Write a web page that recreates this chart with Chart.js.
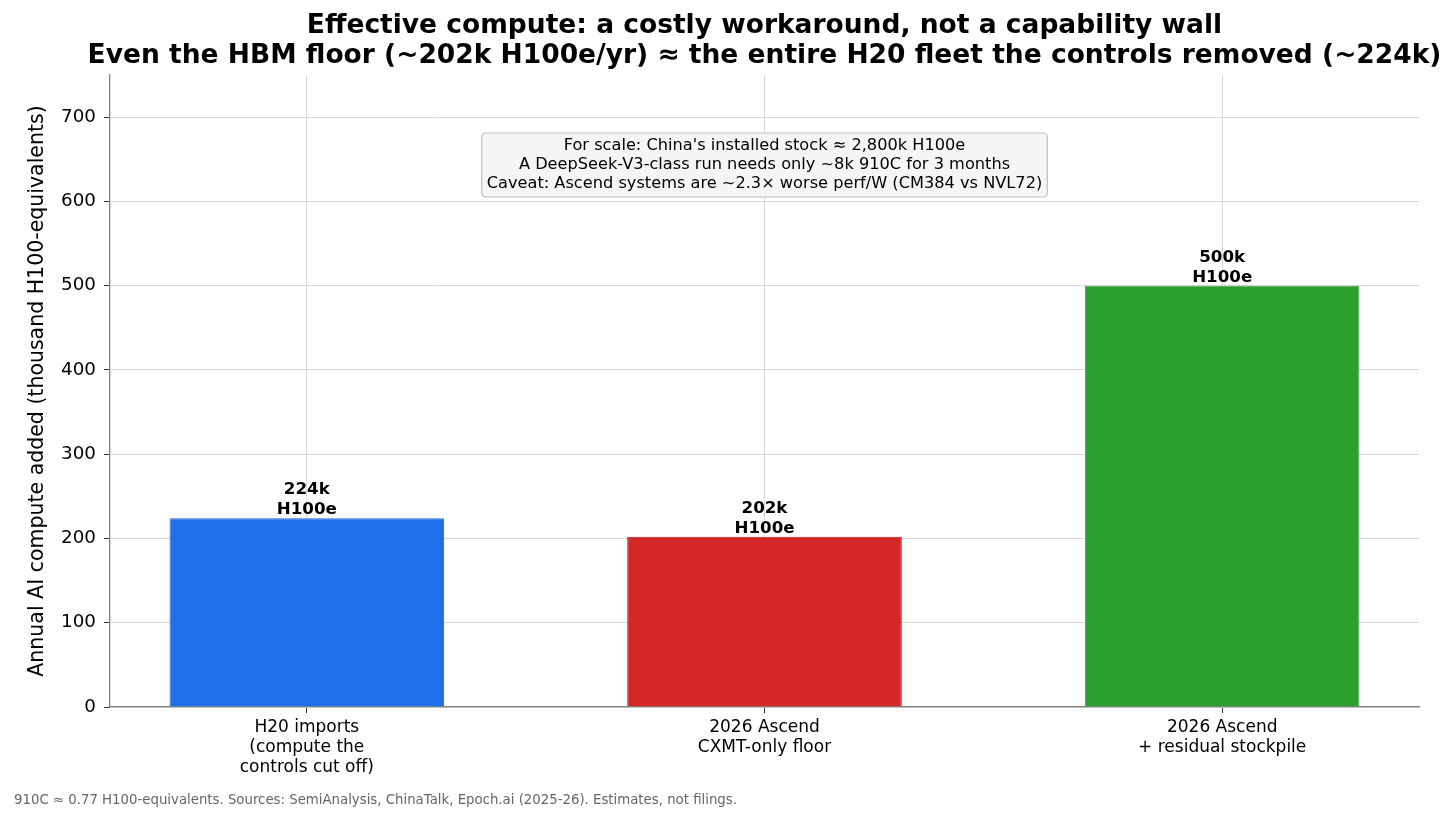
<!DOCTYPE html>
<html>
<head>
<meta charset="utf-8">
<script src="https://cdn.jsdelivr.net/npm/chart.js@4.4.1/dist/chart.umd.min.js"></script>
<style>
  html, body { margin: 0; padding: 0; background: #fff; }
</style>
</head>
<body>
<canvas id="chart" width="1456" height="821"></canvas>
<script>
// data
var categories = [
  ['H20 imports', '(compute the', 'controls cut off)'],
  ['2026 Ascend', 'CXMT-only floor'],
  ['2026 Ascend', '+ residual stockpile']
];
var values = [224, 202, 500];
var barLabels = [['224k', 'H100e'], ['202k', 'H100e'], ['500k', 'H100e']];
var yTicks = [0, 100, 200, 300, 400, 500, 600, 700];
var yMax = 750;
var titleLines = [
  'Effective compute: a costly workaround, not a capability wall',
  'Even the HBM floor (~202k H100e/yr) \u2248 the entire H20 fleet the controls removed (~224k)'
];
var yTitle = 'Annual AI compute added (thousand H100-equivalents)';
var noteLines = [
  "For scale: China's installed stock \u2248 2,800k H100e",
  'A DeepSeek-V3-class run needs only ~8k 910C for 3 months',
  'Caveat: Ascend systems are ~2.3\u00d7 worse perf/W (CM384 vs NVL72)'
];
var footnote = '910C \u2248 0.77 H100-equivalents. Sources: SemiAnalysis, ChinaTalk, Epoch.ai (2025-26). Estimates, not filings.';

var FONT = '"DejaVu Sans", sans-serif';

var points = values.map(function (v, i) { return { x: i, y: v }; });

// title, bar value labels, note box and footnote
var overlay = {
  id: 'overlay',
  afterDraw: function (chart) {
    var ctx = chart.ctx;
    var area = chart.chartArea;
    var cx = (area.left + area.right) / 2;
    ctx.save();

    ctx.fillStyle = '#000';
    ctx.textAlign = 'center';
    ctx.textBaseline = 'alphabetic';
    ctx.font = 'bold 26.5px ' + FONT;
    titleLines.forEach(function (t, i) {
      ctx.fillText(t, cx, 33 + i * 30);
    });

    // labels above bars
    var meta = chart.getDatasetMeta(0);
    ctx.font = 'bold 16.7px ' + FONT;
    meta.data.forEach(function (bar, i) {
      var lines = barLabels[i];
      for (var k = 0; k < lines.length; k++) {
        var off = (lines.length - 1 - k) * 20;
        ctx.fillText(lines[k], bar.x, bar.y - 4 - off);
      }
    });

    // note box
    ctx.font = '16.2px ' + FONT;
    var w = 0;
    noteLines.forEach(function (t) { w = Math.max(w, ctx.measureText(t).width); });
    var bw = w + 10, bh = 64;
    var bx = cx - bw / 2, by = area.top + 58;
    ctx.beginPath();
    ctx.roundRect(bx, by, bw, bh, 4);
    ctx.fillStyle = 'rgba(244,244,244,0.95)';
    ctx.fill();
    ctx.strokeStyle = '#bdbdbd';
    ctx.lineWidth = 1.2;
    ctx.stroke();
    ctx.fillStyle = '#000';
    noteLines.forEach(function (t, i) {
      ctx.fillText(t, cx, by + 17 + i * 19.2);
    });

    // footnote
    ctx.textAlign = 'left';
    ctx.font = '13.3px ' + FONT;
    ctx.fillStyle = '#666';
    ctx.fillText(footnote, 14, 804);

    ctx.restore();
  }
};

var ctx = document.getElementById('chart');
var chart = new Chart(ctx, {
  type: 'bar',
  data: {
    datasets: [{
      data: points,
      backgroundColor: ['#1f6fe8', '#d62728', '#2ca02c'],
      borderColor: ['#2a62c8', '#a32020', '#5b9a5b'],
      borderWidth: 1,
      categoryPercentage: 1,
      barPercentage: 0.6
    }]
  },
  options: {
    responsive: false,
    devicePixelRatio: 1,
    animation: false,
    layout: { padding: { top: 75, right: 37, left: 0, bottom: 0 } },
    plugins: {
      legend: { display: false },
      tooltip: { enabled: false },
      title: { display: false }
    },
    scales: {
      x: {
        type: 'linear',
        min: -0.43,
        max: 2.43,
        offset: false,
        z: 1,
        afterBuildTicks: function (scale) {
          scale.ticks = categories.map(function (c, i) { return { value: i }; });
        },
        afterFit: function (scale) { scale.height = 114; },
        ticks: {
          autoSkip: false,
          maxRotation: 0,
          padding: 4,
          color: '#000',
          font: { family: FONT, size: 17, lineHeight: 1.2 },
          callback: function (v) { return categories[v] || ''; }
        },
        grid: {
          offset: false,
          color: '#d9d9d9',
          lineWidth: 1,
          tickColor: '#333',
          tickLength: 6
        },
        border: { color: '#808080', width: 1.3 }
      },
      y: {
        min: 0,
        max: yMax,
        z: 1,
        afterBuildTicks: function (scale) {
          scale.ticks = yTicks.map(function (v) { return { value: v }; });
        },
        afterFit: function (scale) { scale.width = 110; },
        ticks: {
          padding: 8,
          color: '#000',
          font: { family: FONT, size: 18.3 }
        },
        grid: {
          color: '#d9d9d9',
          lineWidth: 1,
          tickColor: '#333',
          tickLength: 6
        },
        border: { color: '#808080', width: 1.3 },
        title: {
          display: true,
          text: yTitle,
          color: '#000',
          font: { family: FONT, size: 20.5 },
          padding: { top: 25, bottom: 0 }
        }
      }
    }
  },
  plugins: [overlay]
});
</script>
</body>
</html>
